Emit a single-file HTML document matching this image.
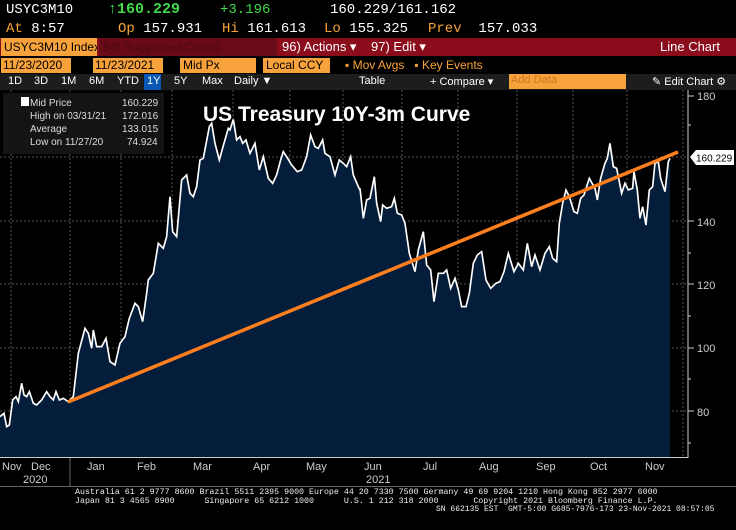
<!DOCTYPE html>
<html><head><meta charset="utf-8"><style>
*{margin:0;padding:0;box-sizing:border-box}
body{width:736px;height:530px;background:#000;overflow:hidden;position:relative;font-family:"Liberation Sans",sans-serif;color:#fff}
.a{position:absolute;white-space:nowrap}
.m{font-family:"Liberation Mono",monospace}
.t{position:absolute;top:75px;font-size:11px}
</style></head><body>
<div class="a m" style="left:6px;top:2px;font-size:14px;">USYC3M10</div>
<div class="a m" style="left:108px;top:1px;font-size:15px;color:#3fd94a;font-weight:bold">↑160.229</div>
<div class="a m" style="left:220px;top:2px;font-size:14px;color:#3fd94a">+3.196</div>
<div class="a m" style="left:330px;top:2px;font-size:14px;">160.229/161.162</div>
<div class="a m" style="left:6px;top:21px;font-size:14px;"><span style="color:#f7a23a">At</span> 8:57</div>
<div class="a m" style="left:118px;top:21px;font-size:14px;"><span style="color:#f7a23a">Op</span> 157.931</div>
<div class="a m" style="left:222px;top:21px;font-size:14px;"><span style="color:#f7a23a">Hi</span> 161.613</div>
<div class="a m" style="left:324px;top:21px;font-size:14px;"><span style="color:#f7a23a">Lo</span> 155.325</div>
<div class="a m" style="left:428px;top:21px;font-size:14px;"><span style="color:#f7a23a">Prev</span>&nbsp; 157.033</div>
<div class="a" style="left:0;top:38px;width:736px;height:18px;background:#8b0d1c"></div>
<div class="a" style="left:1px;top:38px;width:96px;height:18px;background:#f7a23a;color:#000;font-size:12px;padding:2px 3px;overflow:hidden">USYC3M10 Index</div>
<div class="a" style="left:99px;top:38px;width:178px;height:18px;background:#6a0a16;color:#4a0a10;font-size:12px;padding:2px 4px;overflow:hidden">94) Suggested Charts</div>
<div class="a" style="left:282px;top:39px;font-size:13px">96) Actions ▾</div>
<div class="a" style="left:371px;top:39px;font-size:13px">97) Edit ▾</div>
<div class="a" style="left:660px;top:39px;font-size:13px">Line Chart</div>
<div class="a" style="left:1px;top:58px;width:70px;height:15px;background:#f7a23a;color:#000;font-size:12px;padding:0 2px">11/23/2020</div>
<div class="a" style="left:93px;top:58px;width:70px;height:15px;background:#f7a23a;color:#000;font-size:12px;padding:0 2px">11/23/2021</div>
<div class="a" style="left:180px;top:58px;width:76px;height:15px;background:#f7a23a;color:#000;font-size:12px;padding:0 3px">Mid Px</div>
<div class="a" style="left:263px;top:58px;width:67px;height:15px;background:#f7a23a;color:#000;font-size:12px;padding:0 3px">Local CCY</div>
<div class="a" style="left:345px;top:58px;font-size:12px;color:#f7a23a">▪ Mov Avgs &nbsp; ▪ Key Events</div>
<div class="a" style="left:0;top:74px;width:736px;height:16px;background:#1d1d1d"></div>
<div class="a" style="left:144px;top:74px;width:17px;height:16px;background:#0a58b5"></div>
<div class="t" style="left:8px">1D</div><div class="t" style="left:34px">3D</div><div class="t" style="left:61px">1M</div><div class="t" style="left:89px">6M</div><div class="t" style="left:117px">YTD</div><div class="t" style="left:147px">1Y</div><div class="t" style="left:174px">5Y</div><div class="t" style="left:202px">Max</div>
<div class="t" style="left:234px">Daily ▼</div>
<div class="t" style="left:359px">Table</div>
<div class="t" style="left:430px">+ Compare ▾</div>
<div class="a" style="left:509px;top:74px;width:117px;height:15px;background:#f7a23a;color:#c77a20;font-size:11px;padding:0 2px">Add Data</div>
<div class="t" style="left:652px">✎ Edit Chart ⚙</div>
<svg class="a" style="left:0;top:90px" width="736" height="407" viewBox="0 90 736 407">
<g stroke="#555" stroke-dasharray="2,2" stroke-width="1">
<line x1="0" x2="688" y1="157" y2="157"/><line x1="0" x2="688" y1="221" y2="221"/><line x1="0" x2="688" y1="284" y2="284"/><line x1="0" x2="688" y1="348" y2="348"/><line x1="0" x2="688" y1="411" y2="411"/>
<line x1="11" x2="11" y1="90" y2="457"/><line x1="70" x2="70" y1="90" y2="457"/><line x1="121" x2="121" y1="90" y2="457"/><line x1="172" x2="172" y1="90" y2="457"/><line x1="233" x2="233" y1="90" y2="457"/><line x1="290" x2="290" y1="90" y2="457"/><line x1="343" x2="343" y1="90" y2="457"/><line x1="402" x2="402" y1="90" y2="457"/><line x1="458" x2="458" y1="90" y2="457"/><line x1="517" x2="517" y1="90" y2="457"/><line x1="573" x2="573" y1="90" y2="457"/><line x1="627" x2="627" y1="90" y2="457"/><line x1="683" x2="683" y1="90" y2="457"/>
</g>
<g transform="translate(0,90) scale(0.3333)">
<polygon fill="#041d3a" points="0,1101 0,980 12,970 20,1010 28,1005 38,930 48,920 55,935 65,880 72,915 80,920 88,905 100,940 110,945 125,930 140,905 150,920 160,930 168,905 178,930 190,925 205,935 220,920 235,790 255,715 265,730 275,775 280,720 290,770 305,770 318,745 330,815 345,825 360,760 375,740 388,685 405,640 415,650 428,695 440,610 445,570 460,550 475,460 490,475 500,440 510,320 518,425 530,440 545,270 560,255 570,310 580,320 590,290 600,210 610,205 628,110 635,100 645,160 658,210 672,160 685,115 690,120 700,88 710,150 720,140 728,160 738,150 750,190 765,160 778,240 790,200 805,265 818,280 830,255 842,210 850,185 860,200 875,225 892,245 905,240 920,200 932,135 945,170 955,175 968,150 975,190 990,200 1005,255 1018,210 1030,220 1040,230 1052,200 1060,255 1075,290 1082,300 1082,1101"/>
<polyline fill="none" stroke="#fff" stroke-width="5" points="0,980 12,970 20,1010 28,1005 38,930 48,920 55,935 65,880 72,915 80,920 88,905 100,940 110,945 125,930 140,905 150,920 160,930 168,905 178,930 190,925 205,935 220,920 235,790 255,715 265,730 275,775 280,720 290,770 305,770 318,745 330,815 345,825 360,760 375,740 388,685 405,640 415,650 428,695 440,610 445,570 460,550 475,460 490,475 500,440 510,320 518,425 530,440 545,270 560,255 570,310 580,320 590,290 600,210 610,205 628,110 635,100 645,160 658,210 672,160 685,115 690,120 700,88 710,150 720,140 728,160 738,150 750,190 765,160 778,240 790,200 805,265 818,280 830,255 842,210 850,185 860,200 875,225 892,245 905,240 920,200 932,135 945,170 955,175 968,150 975,190 990,200 1005,255 1018,210 1030,220 1040,230 1052,200 1060,255 1075,290 1080,300"/>
</g>
<g transform="translate(360,90) scale(0.3333)">
<polygon fill="#041d3a" points="0,1101 0,295 10,385 20,330 30,325 43,260 50,340 62,395 68,345 80,355 95,350 103,325 112,370 125,375 135,400 148,490 165,545 175,480 190,425 200,525 212,540 222,635 235,550 250,550 260,540 272,595 285,565 295,600 305,650 318,650 328,610 340,520 352,495 365,485 378,570 392,595 408,580 420,575 432,545 445,490 462,545 475,520 490,540 502,460 515,530 525,495 540,540 555,490 568,470 578,505 590,515 598,400 608,340 618,300 628,320 642,365 652,370 662,325 672,315 688,265 705,295 712,330 722,265 735,220 742,205 750,160 760,230 770,235 785,310 795,280 805,300 818,295 822,245 832,300 840,385 848,350 858,405 868,300 878,290 885,220 895,215 902,265 915,305 925,215 930,205 930,1101"/>
<polyline fill="none" stroke="#fff" stroke-width="5" points="0,300 0,295 10,385 20,330 30,325 43,260 50,340 62,395 68,345 80,355 95,350 103,325 112,370 125,375 135,400 148,490 165,545 175,480 190,425 200,525 212,540 222,635 235,550 250,550 260,540 272,595 285,565 295,600 305,650 318,650 328,610 340,520 352,495 365,485 378,570 392,595 408,580 420,575 432,545 445,490 462,545 475,520 490,540 502,460 515,530 525,495 540,540 555,490 568,470 578,505 590,515 598,400 608,340 618,300 628,320 642,365 652,370 662,325 672,315 688,265 705,295 712,330 722,265 735,220 742,205 750,160 760,230 770,235 785,310 795,280 805,300 818,295 822,245 832,300 840,385 848,350 858,405 868,300 878,290 885,220 895,215 902,265 915,305 925,215 930,205"/>
</g>
<line x1="68" y1="402" x2="678" y2="152" stroke="#ff7f1f" stroke-width="3.5"/>
<line x1="688" y1="90" x2="688" y2="458" stroke="#ccc" stroke-width="1"/>
<line x1="0" y1="457.5" x2="688" y2="457.5" stroke="#ccc" stroke-width="1"/>
<g fill="#ccc" font-size="11" font-family="Liberation Sans,sans-serif">
<text x="697" y="100">180</text><text x="697" y="226">140</text><text x="697" y="289">120</text><text x="697" y="352">100</text><text x="697" y="416">80</text>
</g>
<g stroke="#ccc"><line x1="688" y1="96" x2="694" y2="96"/><line x1="688" y1="221" x2="694" y2="221"/><line x1="688" y1="284" x2="694" y2="284"/><line x1="688" y1="348" x2="694" y2="348"/><line x1="688" y1="411" x2="694" y2="411"/><line x1="688" y1="125" x2="691" y2="125"/><line x1="688" y1="189" x2="691" y2="189"/><line x1="688" y1="253" x2="691" y2="253"/><line x1="688" y1="316" x2="691" y2="316"/><line x1="688" y1="379" x2="691" y2="379"/><line x1="688" y1="443" x2="691" y2="443"/></g>
<polygon points="690,157 696,150 734,150 734,165 696,165" fill="#fff"/>
<text x="696" y="161.5" font-size="10" fill="#000" font-family="Liberation Sans,sans-serif">160.229</text>
<rect x="3" y="93" width="161" height="61" fill="#141414"/>
<rect x="21" y="97" width="8" height="9" fill="#fff"/>
<g fill="#ddd" font-size="10" font-family="Liberation Sans,sans-serif">
<text x="30" y="106">Mid Price</text><text x="122" y="106">160.229</text>
<text x="30" y="119">High on 03/31/21</text><text x="122" y="119">172.016</text>
<text x="30" y="132">Average</text><text x="122" y="132">133.015</text>
<text x="30" y="145">Low on 11/27/20</text><text x="127" y="145">74.924</text>
</g>
<text x="203" y="121" font-size="21" font-weight="bold" fill="#fff" font-family="Liberation Sans,sans-serif">US Treasury 10Y-3m Curve</text>
<g fill="#ccc" font-size="11" font-family="Liberation Sans,sans-serif">
<text x="2" y="470">Nov</text><text x="31" y="470">Dec</text><text x="87" y="470">Jan</text><text x="137" y="470">Feb</text><text x="193" y="470">Mar</text><text x="253" y="470">Apr</text><text x="306" y="470">May</text><text x="364" y="470">Jun</text><text x="423" y="470">Jul</text><text x="479" y="470">Aug</text><text x="536" y="470">Sep</text><text x="590" y="470">Oct</text><text x="645" y="470">Nov</text>
<text x="23" y="483">2020</text><text x="366" y="483">2021</text>
</g>
<line x1="70" y1="458" x2="70" y2="486" stroke="#666"/>
<line x1="0" y1="486.5" x2="736" y2="486.5" stroke="#666"/>
</svg>
<div class="a m" style="left:75px;top:488px;font-size:8.3px;line-height:9px;color:#eee">Australia 61 2 9777 8600 Brazil 5511 2395 9000 Europe 44 20 7330 7500 Germany 49 69 9204 1210 Hong Kong 852 2977 6000<br>Japan 81 3 4565 8900&nbsp;&nbsp;&nbsp;&nbsp;&nbsp; Singapore 65 6212 1000&nbsp;&nbsp;&nbsp;&nbsp;&nbsp; U.S. 1 212 318 2000&nbsp;&nbsp;&nbsp;&nbsp;&nbsp;&nbsp; Copyright 2021 Bloomberg Finance L.P.</div>
<div class="a m" style="left:436px;top:505px;font-size:8px;color:#eee">SN 662135 EST&nbsp; GMT-5:00 G685-7976-173 23-Nov-2021 08:57:05</div>
</body></html>
